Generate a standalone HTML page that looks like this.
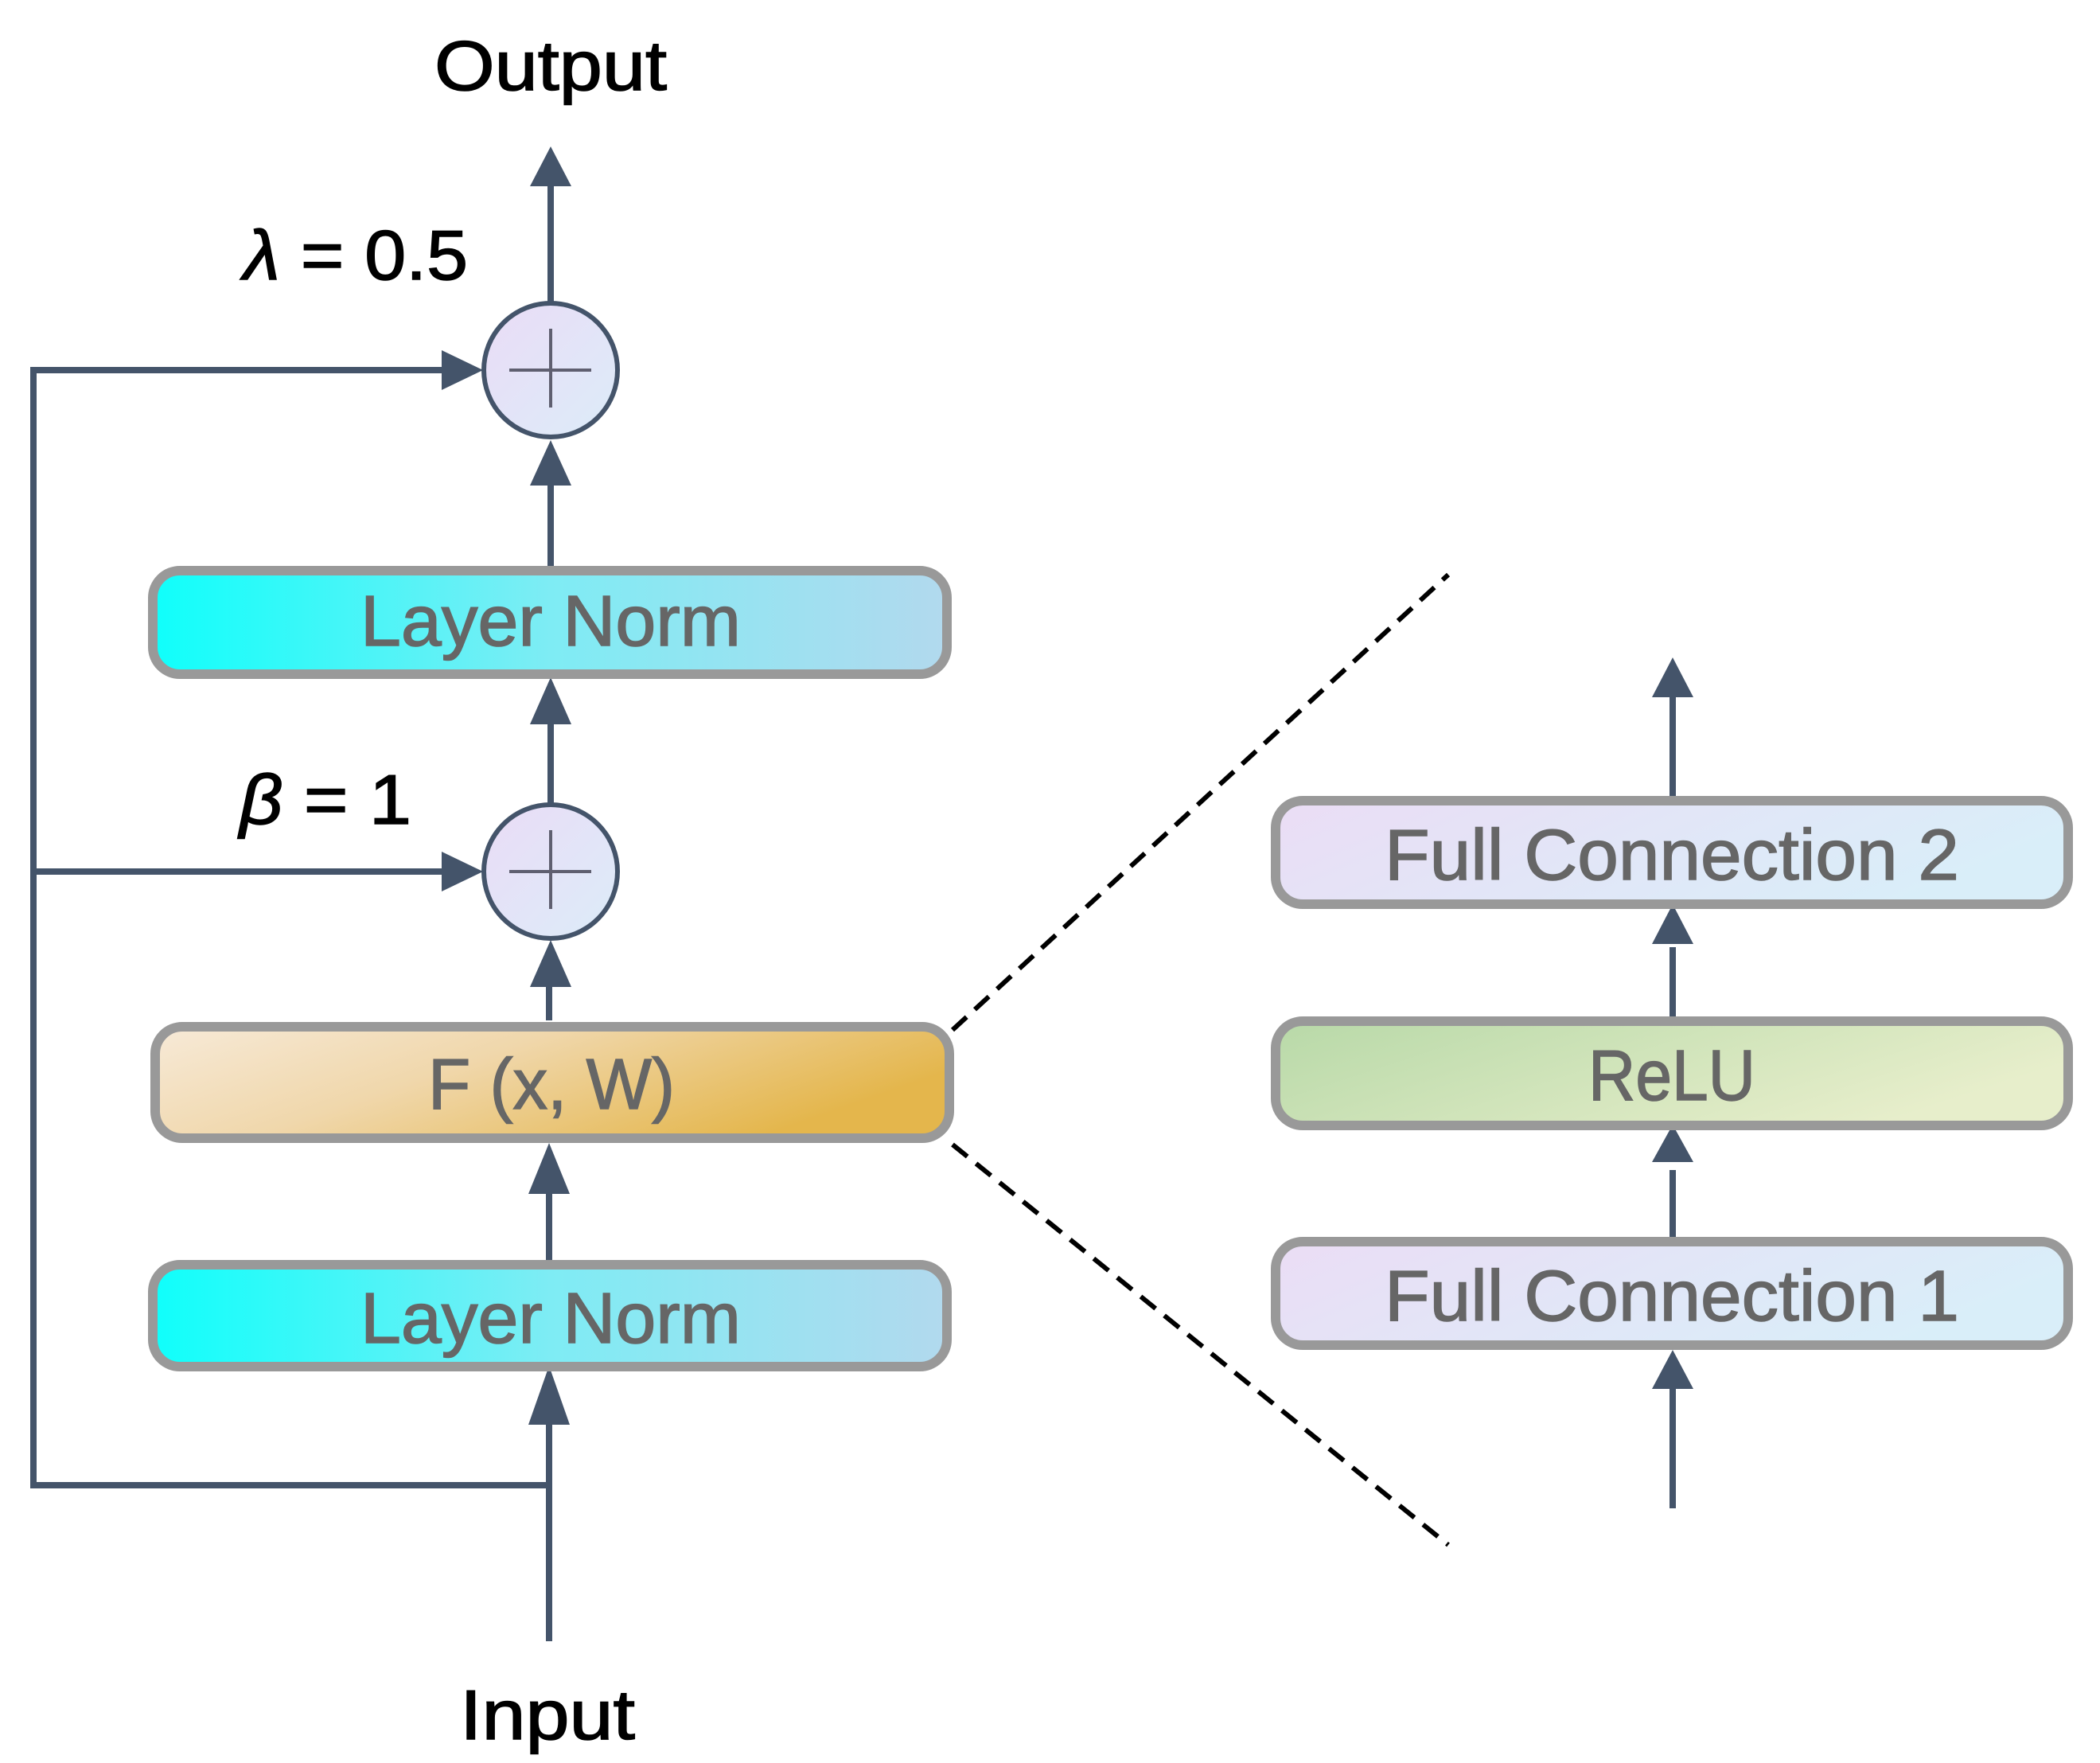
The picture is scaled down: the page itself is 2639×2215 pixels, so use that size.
<!DOCTYPE html>
<html><head><meta charset="utf-8"><style>html,body{margin:0;padding:0;background:#fff}</style></head>
<body>
<svg width="2639" height="2210" viewBox="0 0 2639 2210" xmlns="http://www.w3.org/2000/svg" font-family="Liberation Sans, sans-serif">
<defs>
<linearGradient id="ln" x1="0" y1="0" x2="1" y2="0"><stop offset="0" stop-color="#0ffffb"/><stop offset="0.5" stop-color="#7eecf4"/><stop offset="1" stop-color="#b2d9ee"/></linearGradient>
<linearGradient id="fx" x1="0" y1="0" x2="1" y2="0.4"><stop offset="0" stop-color="#f7ead8"/><stop offset="0.45" stop-color="#f0d7ab"/><stop offset="1" stop-color="#e4b64c"/></linearGradient>
<linearGradient id="fc" x1="0" y1="0" x2="1" y2="0.3"><stop offset="0" stop-color="#ebddf5"/><stop offset="1" stop-color="#d9eef9"/></linearGradient>
<linearGradient id="re" x1="0" y1="0" x2="1" y2="0.4"><stop offset="0" stop-color="#b8d9a8"/><stop offset="1" stop-color="#e7eecb"/></linearGradient>
<linearGradient id="ci" x1="0" y1="0" x2="1" y2="1"><stop offset="0" stop-color="#eadcf6"/><stop offset="1" stop-color="#dcecf9"/></linearGradient>
</defs>
<g stroke="#44546a" stroke-width="8" fill="none">
<line x1="690" y1="2062" x2="690" y2="1790"/>
<line x1="690" y1="1584" x2="690" y2="1500"/>
<line x1="690" y1="1282" x2="690" y2="1240"/>
<line x1="692" y1="1010" x2="692" y2="910"/>
<line x1="692" y1="711" x2="692" y2="610"/>
<line x1="692" y1="380" x2="692" y2="230"/>
<polyline points="690,1866 42,1866 42,465 560,465"/>
<line x1="42" y1="1095" x2="560" y2="1095"/>
<line x1="2102" y1="1895" x2="2102" y2="1740"/>
<line x1="2102" y1="1563" x2="2102" y2="1470"/>
<line x1="2102" y1="1286" x2="2102" y2="1190"/>
<line x1="2102" y1="1010" x2="2102" y2="870"/>
</g>
<g fill="#44546a">
<polygon points="690,1716 664,1790 716,1790"/>
<polygon points="690,1436 664,1500 716,1500"/>
<polygon points="692,1181 666,1240 718,1240"/>
<polygon points="692,851 666,910 718,910"/>
<polygon points="692,553 666,610 718,610"/>
<polygon points="692,184 666,234 718,234"/>
<polygon points="607,465 555,440 555,490"/>
<polygon points="607,1095 555,1070 555,1120"/>
<polygon points="2102,1696 2076,1745 2128,1745"/>
<polygon points="2102,1413 2076,1460 2128,1460"/>
<polygon points="2102,1136 2076,1186 2128,1186"/>
<polygon points="2102,826 2076,876 2128,876"/>
</g>
<g stroke="#000" stroke-width="6" stroke-dasharray="24,14">
<line x1="1197" y1="1294" x2="1820" y2="722"/>
<line x1="1197" y1="1438" x2="1820" y2="1941"/>
</g>
<g stroke="#999" stroke-width="12">
<rect x="192" y="717" width="998" height="130" rx="34" fill="url(#ln)"/>
<rect x="195" y="1290" width="998" height="140" rx="34" fill="url(#fx)"/>
<rect x="192" y="1589" width="998" height="128" rx="34" fill="url(#ln)"/>
<rect x="1603" y="1006" width="996" height="130" rx="34" fill="url(#fc)"/>
<rect x="1603" y="1283" width="996" height="131" rx="34" fill="url(#re)"/>
<rect x="1603" y="1560" width="996" height="130" rx="34" fill="url(#fc)"/>
</g>
<g stroke="#44546a" stroke-width="6" fill="url(#ci)">
<circle cx="692" cy="465" r="84"/>
<circle cx="692" cy="1095" r="84"/>
</g>
<g stroke="#5f5f70" stroke-width="4">
<line x1="692" y1="413" x2="692" y2="512"/><line x1="640" y1="465" x2="743" y2="465"/>
<line x1="692" y1="1043" x2="692" y2="1142"/><line x1="640" y1="1095" x2="743" y2="1095"/>
</g>
<g fill="#666" stroke="#666" stroke-width="1.5" font-size="90" text-anchor="middle">
<text x="692" y="811" textLength="478" lengthAdjust="spacingAndGlyphs">Layer Norm</text>
<text x="692" y="1687" textLength="478" lengthAdjust="spacingAndGlyphs">Layer Norm</text>
<text x="693" y="1393" textLength="310" lengthAdjust="spacingAndGlyphs">F (x, W)</text>
<text x="2101" y="1105" textLength="722" lengthAdjust="spacingAndGlyphs">Full Connection 2</text>
<text x="2101" y="1382" textLength="210" lengthAdjust="spacingAndGlyphs">ReLU</text>
<text x="2101" y="1659" textLength="722" lengthAdjust="spacingAndGlyphs">Full Connection 1</text>
</g>
<g fill="#000" stroke="#000" stroke-width="1.5" font-size="88">
<text x="546" y="113" textLength="292" lengthAdjust="spacingAndGlyphs">Output</text>
<text x="578" y="2185" textLength="220" lengthAdjust="spacingAndGlyphs">Input</text>
<text x="306" y="351" textLength="282" lengthAdjust="spacingAndGlyphs"><tspan font-style="italic">λ</tspan> = 0.5</text>
<text x="301" y="1035" textLength="216" lengthAdjust="spacingAndGlyphs"><tspan font-style="italic">β</tspan> = 1</text>
</g>
</svg>
</body></html>
